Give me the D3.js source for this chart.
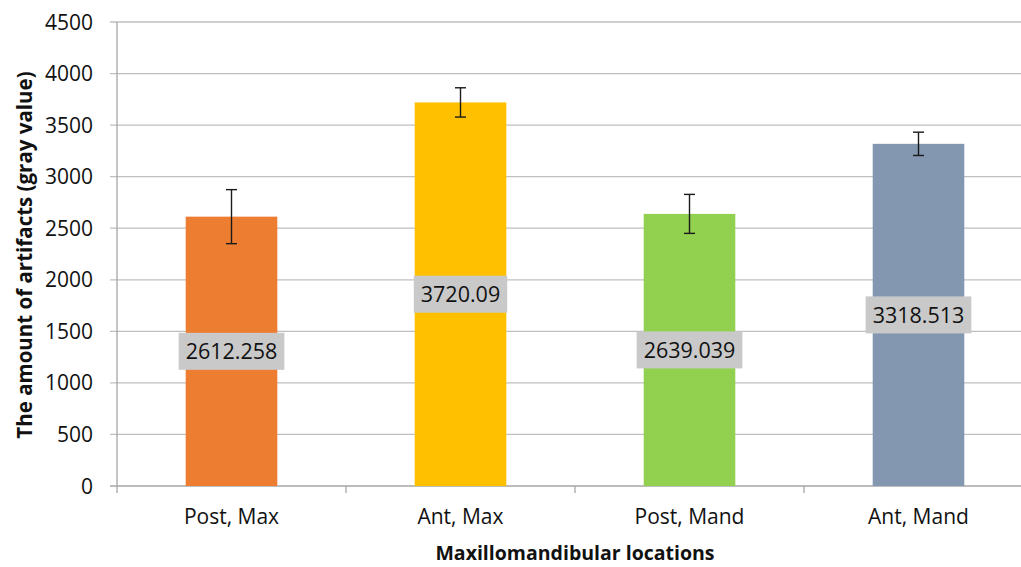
<!DOCTYPE html>
<html>
<head>
<meta charset="utf-8">
<script src="https://cdn.jsdelivr.net/npm/d3@7"></script>
<style>
  body { margin: 0; background: #fff; }
  svg { display: block; font-family: "Open Sans", sans-serif; }
</style>
</head>
<body>
<div id="chart"></div>
<script>
var categories = ["Post, Max", "Ant, Max", "Post, Mand", "Ant, Mand"];
var means = [2612.258, 3720.09, 2639.039, 3318.513];
var errors = [262, 142, 189, 113];
var labels = ["2612.258", "3720.09", "2639.039", "3318.513"];
var colors = ["#ED7D31", "#FFC000", "#92D050", "#8497B0"];
var yTicks = [0, 500, 1000, 1500, 2000, 2500, 3000, 3500, 4000, 4500];

var W = 1021, H = 567;
var margin = { top: 22, right: -12, bottom: 81, left: 117 },
    width = W - margin.left - margin.right,
    height = H - margin.top - margin.bottom;

var svg = d3.select("#chart")
    .append("svg")
    .attr("width", W)
    .attr("height", H)
    .append("g")
    .attr("transform", "translate(" + margin.left + "," + margin.top + ")");

var x = d3.scaleBand()
    .domain(categories)
    .range([0, width])
    .padding(0);

var y = d3.scaleLinear()
    .domain([0, 4500])
    .range([height, 0]);

// gridlines
svg.selectAll(".grid")
    .data(yTicks)
    .enter()
    .append("line")
    .attr("class", "grid")
    .attr("x1", -7)
    .attr("x2", width)
    .attr("y1", function (d) { return y(d); })
    .attr("y2", function (d) { return y(d); })
    .attr("stroke", function (d) { return d === 0 ? "#a6a6a6" : "#bfbfbf"; })
    .attr("stroke-width", 1.3);

// y axis line
svg.append("line")
    .attr("x1", 0).attr("x2", 0)
    .attr("y1", y(4500)).attr("y2", y(0))
    .attr("stroke", "#a6a6a6")
    .attr("stroke-width", 1.3);

// y tick labels
svg.selectAll(".ylab")
    .data(yTicks)
    .enter()
    .append("text")
    .attr("class", "ylab")
    .attr("x", -24)
    .attr("y", function (d) { return y(d); })
    .attr("dy", "0.36em")
    .attr("text-anchor", "end")
    .style("font-size", "21px")
    .style("fill", "#111")
    .text(function (d) { return d; });

// x ticks at band boundaries
var bounds = categories.map(function (c) { return x(c); }).concat([width]);
svg.selectAll(".xtick")
    .data(bounds)
    .enter()
    .append("line")
    .attr("x1", function (d) { return d; })
    .attr("x2", function (d) { return d; })
    .attr("y1", height)
    .attr("y2", height + 7)
    .attr("stroke", "#a6a6a6")
    .attr("stroke-width", 1.3);

// bars
var barW = x.bandwidth() * 0.4;
svg.selectAll(".bar")
    .data(means)
    .enter()
    .append("rect")
    .attr("class", "bar")
    .attr("x", function (d, i) { return x(categories[i]) + x.bandwidth() / 2 - barW / 2; })
    .attr("y", function (d) { return y(d); })
    .attr("width", barW)
    .attr("height", function (d) { return y(0) - y(d); })
    .style("fill", function (d, i) { return colors[i]; });

// error bars
var cap = 5.5;
means.forEach(function (m, i) {
    var cx = x(categories[i]) + x.bandwidth() / 2;
    var g = svg.append("g").attr("stroke", "#1a1a1a").attr("stroke-width", 1.4);
    g.append("line")
        .attr("x1", cx).attr("x2", cx)
        .attr("y1", y(m + errors[i])).attr("y2", y(m - errors[i]));
    [m + errors[i], m - errors[i]].forEach(function (v) {
        g.append("line")
            .attr("x1", cx - cap).attr("x2", cx + cap)
            .attr("y1", y(v)).attr("y2", y(v));
    });
});

// data labels
means.forEach(function (m, i) {
    var cx = x(categories[i]) + x.bandwidth() / 2;
    var cy = y(m / 2);
    var g = svg.append("g");
    var t = g.append("text")
        .attr("x", cx)
        .attr("y", cy)
        .attr("dy", "0.36em")
        .attr("text-anchor", "middle")
        .style("font-size", "21.5px")
        .style("fill", "#111")
        .text(labels[i]);
    var bb = t.node().getBBox();
    g.insert("rect", "text")
        .attr("x", bb.x - 7)
        .attr("y", cy - 18.5)
        .attr("width", bb.width + 14)
        .attr("height", 37)
        .style("fill", "#c9c9c9");
});

// x tick labels
svg.selectAll(".xlab")
    .data(categories)
    .enter()
    .append("text")
    .attr("x", function (d) { return x(d) + x.bandwidth() / 2; })
    .attr("y", height + 38)
    .attr("text-anchor", "middle")
    .style("font-size", "21px")
    .style("fill", "#111")
    .text(function (d) { return d; });

// axis titles
svg.append("text")
    .attr("x", 575 - margin.left)
    .attr("y", height + 74)
    .attr("text-anchor", "middle")
    .style("font-size", "19.5px")
    .style("font-weight", "bold")
    .style("fill", "#111")
    .text("Maxillomandibular locations");

svg.append("text")
    .attr("transform", "rotate(-90)")
    .attr("x", -(255 - margin.top))
    .attr("y", -margin.left + 32)
    .attr("text-anchor", "middle")
    .style("font-size", "20.5px")
    .style("font-weight", "bold")
    .style("fill", "#111")
    .text("The amount of artifacts (gray value)");
</script>
</body>
</html>
